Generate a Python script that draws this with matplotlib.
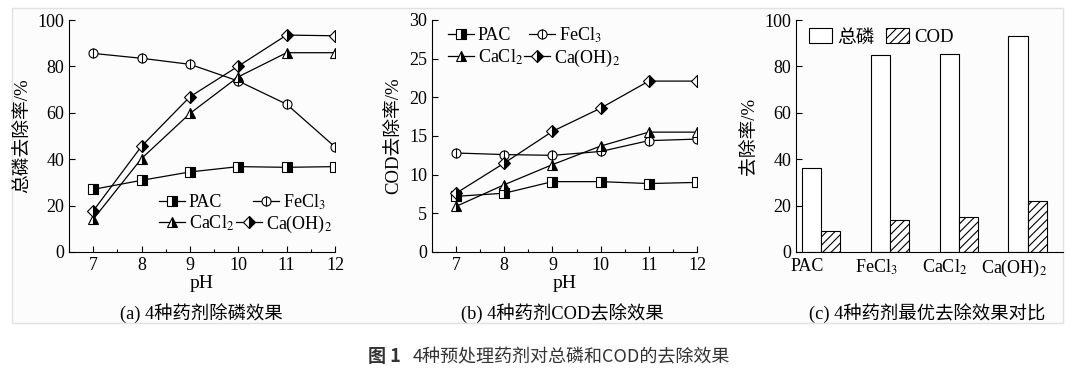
import numpy as np
import matplotlib
matplotlib.use("Agg")
from matplotlib import pyplot as plt
from matplotlib.patches import Rectangle
from matplotlib.legend_handler import HandlerTuple

plt.rcParams['font.family'] = ['Liberation Serif', 'Noto Sans CJK SC']
plt.rcParams['mathtext.fontset'] = 'stix'
plt.rcParams['hatch.linewidth'] = 0.8

ph = [7, 8, 9, 10, 11, 12]
names = ['PAC', 'FeCl$_3$', 'CaCl$_2$', 'Ca(OH)$_2$']

tp_pac = [27, 30.9, 34.5, 36.8, 36.5, 36.8]
tp_fecl3 = [85.6, 83.5, 80.9, 73.7, 63.7, 45.3]
tp_cacl2 = [14.1, 40.3, 59.7, 75.5, 85.9, 85.9]
tp_caoh2 = [17.7, 45.6, 66.9, 80.1, 93.5, 93.2]

cod_pac = [7.2, 7.6, 9.1, 9.1, 8.85, 9.0]
cod_fecl3 = [12.8, 12.6, 12.5, 13.0, 14.4, 14.6]
cod_cacl2 = [5.9, 8.7, 11.3, 13.7, 15.5, 15.5]
cod_caoh2 = [7.6, 11.5, 15.6, 18.6, 22.1, 22.1]

best_tp = [36, 85, 85.3, 92.9]
best_cod = [9, 14, 15, 22]

markers = ['s', 'o', '^', 'D']
msizes = [6.5, 6.5, 6.5, 6]

W, H = 1076, 370
fig = plt.figure(figsize=(W / 100, H / 100), dpi=100)
fig.patch.set_facecolor('white')
fig.patches.append(Rectangle((12 / W, 1 - 323 / H), 1051 / W, 315 / H,
                             transform=fig.transFigure, facecolor='#fcfcfc',
                             edgecolor='#e2e2e2', lw=1, zorder=-10))


def px_axes(l, t, r, b):
    return fig.add_axes([l / W, 1 - b / H, (r - l) / W, (b - t) / H])


def style_axes(ax):
    ax.set_facecolor('none')
    for s in ['top', 'right']:
        ax.spines[s].set_visible(False)
    ax.tick_params(direction='in', labelsize=13, length=4, width=0.8)
    ax.tick_params(which='minor', direction='in', length=2.5, width=0.8)


def line_panel(ax, series, ylim, yticks):
    handles = []
    for ys, m, ms in zip(series, markers, msizes):
        kw = dict(color='black', lw=0.9, marker=m, markersize=ms,
                  markeredgecolor='black', markeredgewidth=0.8)
        if m == 'o':
            h1, = ax.plot(ph, ys, markerfacecolor='white', **kw)
            h2, = ax.plot(ph, ys, ls='none', marker='|', color='black',
                          markersize=ms, markeredgewidth=0.8)
            handles.append((h1, h2))
        else:
            h, = ax.plot(ph, ys, fillstyle='right', markerfacecolor='black',
                         markerfacecoloralt='white', **kw)
            handles.append(h)
    ax.set_xlim(6.5, 12)
    ax.set_ylim(*ylim)
    ax.set_xticks(ph)
    ax.set_xticks(np.arange(6.5, 12, 1.0), minor=True)
    ax.set_yticks(yticks)
    ax.set_xlabel('pH', fontsize=14, labelpad=1)
    style_axes(ax)
    return handles


def row_legend(handles, labels, x, y, colsp):
    # one legend per row, the rows in the source are not column-aligned
    fig.legend(handles, labels, ncol=2, loc='center left',
               bbox_to_anchor=(x / W, 1 - y / H), frameon=False,
               fontsize=13, handlelength=1.45, handletextpad=0.2,
               columnspacing=colsp, borderpad=0, borderaxespad=0,
               handler_map={tuple: HandlerTuple(ndivide=1)})


ax1 = px_axes(69, 20, 335, 252)
h = line_panel(ax1, [tp_pac, tp_fecl3, tp_cacl2, tp_caoh2], (0, 100),
               range(0, 101, 20))
ax1.set_ylabel('总磷去除率/%', fontsize=13.5, labelpad=4)
row_legend(h[:2], names[:2], 159, 202, 1.7)
row_legend(h[2:], names[2:], 159, 224, 0.12)

ax2 = px_axes(432, 20, 697, 252)
h = line_panel(ax2, [cod_pac, cod_fecl3, cod_cacl2, cod_caoh2], (0, 30),
               range(0, 31, 5))
ax2.set_ylabel('COD去除率/%', fontsize=13.5, labelpad=4)
row_legend(h[:2], names[:2], 448, 35, 1.0)
row_legend(h[2:], names[2:], 448, 58, 0.06)

ax3 = px_axes(796, 20, 1063, 252)
x = np.arange(len(names))
bw = 0.28
ax3.bar(x - bw / 2, best_tp, bw, facecolor='white', edgecolor='black',
        lw=0.8, label='总磷')
ax3.bar(x + bw / 2, best_cod, bw, facecolor='white', edgecolor='black',
        lw=0.8, hatch='////', label='COD')
ax3.set_xlim(-0.36, 3.51)
ax3.set_ylim(0, 100)
ax3.set_yticks(range(0, 101, 20))
ax3.set_xticks(x - 0.2)
ax3.set_xticklabels(names)
style_axes(ax3)
ax3.tick_params(axis='x', length=0, pad=4)
ax3.set_ylabel('去除率/%', fontsize=13.5, labelpad=4)
ax3.legend(ncol=2, loc='upper left', bbox_to_anchor=(0.0, 1.02),
           frameon=False, fontsize=13.5, handlelength=1.2, handleheight=0.85,
           handletextpad=0.3, columnspacing=0.6, borderpad=0.2)

cap_y = 1 - 313 / H
fig.text(201 / W, cap_y, '(a) 4种药剂除磷效果', ha='center', va='center', fontsize=13.2)
fig.text(562 / W, cap_y, '(b) 4种药剂COD去除效果', ha='center', va='center', fontsize=13.2)
fig.text(927 / W, cap_y, '(c) 4种药剂最优去除效果对比', ha='center', va='center', fontsize=13.2)

fig.text(368 / W, 1 - 357 / H, '图 1', ha='left', va='center', fontsize=13,
         fontweight='bold', color='#333333', family='Noto Sans CJK SC')
fig.text(413 / W, 1 - 357 / H, '4种预处理药剂对总磷和COD的去除效果', ha='left',
         va='center', fontsize=13, color='#333333', family='Noto Sans CJK SC')

fig.savefig('out.png', dpi=100)
